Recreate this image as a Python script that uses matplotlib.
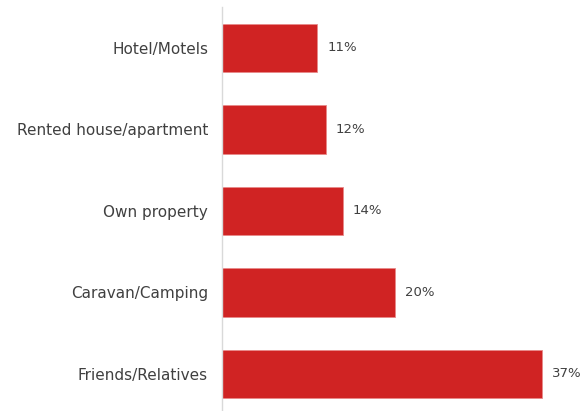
import matplotlib
matplotlib.use("Agg")
import matplotlib.pyplot as plt

categories = ["Hotel/Motels", "Rented house/apartment", "Own property",
              "Caravan/Camping", "Friends/Relatives"]
values = [11, 12, 14, 20, 37]

bar_color = "#D02323"
text_color = "#404040"

fig = plt.figure(figsize=(5.8, 4.11), dpi=100)
ax = fig.add_axes([222 / 580, 0.0, 1 - 222 / 580, 1 - 7 / 411])

y = list(range(len(categories)))
ax.barh(y, values, height=0.6, color=bar_color,
        edgecolor="#E88A8A", linewidth=0.6)

ax.set_ylim(4.454, -0.503)
ax.set_xlim(0, 41.4)

for yi, v in zip(y, values):
    ax.text(v + 1.15, yi, f"{v}%", va="center", ha="left",
            fontsize=9.5, color=text_color)

ax.set_yticks(y)
ax.set_yticklabels(categories, fontsize=11, color=text_color)
ax.tick_params(axis="y", length=0, pad=10)
ax.set_xticks([])

for side in ("top", "right", "bottom"):
    ax.spines[side].set_visible(False)
ax.spines["left"].set_color("#D9D9D9")
ax.spines["left"].set_linewidth(1)

fig.savefig("out.png", dpi=100)
